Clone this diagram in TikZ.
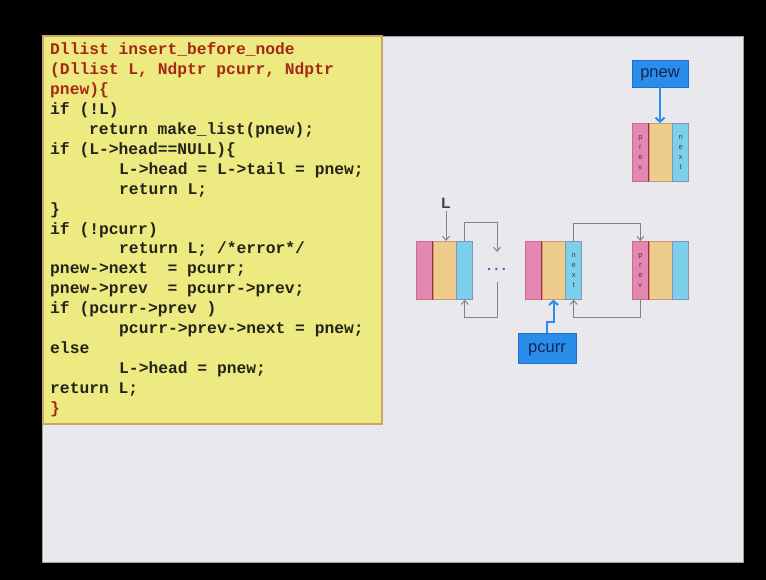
\documentclass[tikz,border=0pt]{standalone}
\usepackage{fontspec}
\setmainfont{Liberation Sans}
\newfontfamily\codefont{Liberation Mono}
\usetikzlibrary{arrows.meta}

\definecolor{slidebg}{RGB}{233,233,237}
\definecolor{slideedge}{RGB}{160,160,160}
\definecolor{codebg}{RGB}{237,234,130}
\definecolor{codeedge}{RGB}{205,165,105}
\definecolor{codered}{RGB}{165,40,20}
\definecolor{codeink}{RGB}{35,35,25}
\definecolor{cellpink}{RGB}{228,135,178}
\definecolor{cellyellow}{RGB}{238,205,140}
\definecolor{cellcyan}{RGB}{125,208,236}
\definecolor{pinkedge}{RGB}{200,110,130}
\definecolor{yellowedge}{RGB}{205,150,120}
\definecolor{cyanedge}{RGB}{130,150,175}
\definecolor{divred}{RGB}{165,45,55}
\definecolor{linkgray}{RGB}{130,130,130}
\definecolor{ptrblue}{RGB}{42,140,235}
\definecolor{ptredge}{RGB}{30,110,205}
\definecolor{ptrtext}{RGB}{18,38,80}
\definecolor{dotblue}{RGB}{80,100,220}
\definecolor{lettergray}{RGB}{70,60,80}

\tikzset{
  code/.style={inner sep=0pt, anchor=base west, text=codeink,
    font=\codefont\bfseries\fontsize{16.3}{19.9}\selectfont},
  codehead/.style={code, text=codered},
  cell/.style={minimum height=58pt, inner sep=0pt, anchor=north west,
    line width=0.7pt, align=center, text=lettergray,
    font=\fontsize{7.5}{9.8}\selectfont},
  cellp/.style={cell, fill=cellpink, draw=pinkedge, minimum width=16pt},
  celly/.style={cell, fill=cellyellow, draw=yellowedge, minimum width=23pt},
  cellc/.style={cell, fill=cellcyan, draw=cyanedge, minimum width=16pt},
  divider/.style={draw=divred, line width=0.8pt},
  link/.style={draw=linkgray, line width=1pt,
    -{Straight Barb[length=4pt,width=7pt]}},
  ptr/.style={fill=ptrblue, draw=ptredge, line width=0.6pt, text=ptrtext,
    inner sep=0pt, text height=9pt, text depth=1pt,
    font=\fontsize{16.5}{18}\selectfont},
  ptrlink/.style={draw=ptrblue, line width=2pt,
    -{Straight Barb[length=4pt,width=9pt]}},
  lbl/.style={inner sep=3pt, text=black!75, font=\bfseries\fontsize{15}{16}\selectfont},
}

\begin{document}
\begin{tikzpicture}[x=1pt,y=-1pt]
  % page and slide
  \fill[black] (0,0) rectangle (766,580);
  \useasboundingbox (0,0) rectangle (766,580);
  \filldraw[fill=slidebg, draw=slideedge, line width=0.8pt] (42,36) rectangle (743,562);

  % code panel
  \filldraw[fill=codebg, draw=codeedge, line width=1.2pt] (43,36) rectangle (382,424);
  \node[codehead] (c1)  at (50,55)    {Dllist insert\_before\_node};
  \node[codehead] (c2)  at (50,74.9)  {(Dllist L, Ndptr pcurr, Ndptr};
  \node[codehead] (c3)  at (50,94.8)  {pnew)\{};
  \node[code]     (c4)  at (50,114.7) {if (!L)};
  \node[code]     (c5)  at (89,134.6) {return make\_list(pnew);};
  \node[code]     (c6)  at (50,154.5) {if (L->head==NULL)\{};
  \node[code]     (c7)  at (119,174.4) {L->head = L->tail = pnew;};
  \node[code]     (c8)  at (119,194.3) {return L;};
  \node[code]     (c9)  at (50,214.2) {\}};
  \node[code]     (c10) at (50,234.1) {if (!pcurr)};
  \node[code]     (c11) at (119,254)  {return L; /*error*/};
  \node[code]     (c12) at (50,273.9) {pnew->next~~= pcurr;};
  \node[code]     (c13) at (50,293.8) {pnew->prev~~= pcurr->prev;};
  \node[code]     (c14) at (50,313.7) {if (pcurr->prev )};
  \node[code]     (c15) at (119,333.6) {pcurr->prev->next = pnew;};
  \node[code]     (c16) at (50,353.5) {else};
  \node[code]     (c17) at (119,373.4) {L->head = pnew;};
  \node[code]     (c18) at (50,393.3) {return L;};
  \node[codehead] (c19) at (50,413.2) {\}};

  % list node reached from L
  \node[cellp] (n1p) at (416,241) {};
  \node[celly] (n1y) at (n1p.north east) {};
  \node[cellc] (n1c) at (n1y.north east) {};
  \draw[divider] (n1p.north east) -- (n1p.south east);

  % current node
  \node[cellp] (n2p) at (525,241) {};
  \node[celly] (n2y) at (n2p.north east) {};
  \node[cellc] (n2c) at (n2y.north east) {n\\e\\x\\t};
  \draw[divider] (n2p.north east) -- (n2p.south east);

  % node after the current one
  \node[cellp] (n3p) at (632,241) {p\\r\\e\\v};
  \node[celly] (n3y) at (n3p.north east) {};
  \node[cellc] (n3c) at (n3y.north east) {};
  \draw[divider] (n3p.north east) -- (n3p.south east);

  % new node
  \node[cellp] (nnp) at (632,123) {p\\r\\e\\v};
  \node[celly] (nny) at (nnp.north east) {};
  \node[cellc] (nnc) at (nny.north east) {n\\e\\x\\t};
  \draw[divider] (nnp.north east) -- (nnp.south east);

  % list head label
  \node[lbl] (L) at (446,203) {L};
  \draw[link] (L.south) -- (L.south |- n1y.north);

  % elided part of the list
  \node[text=dotblue, inner sep=0pt, font=\bfseries\fontsize{15}{15}\selectfont] (dots) at (497,271)
    {·\hspace{2.5pt}·\hspace{2.5pt}·};
  \coordinate (gapT) at (497,252);
  \coordinate (gapB) at (497,282);
  \draw[link] (n1c.north) -- ++(0,-18) -| (gapT);
  \draw[link] (gapB) -- ++(0,35) -| (n1c.south);

  % links between current node and its successor
  \draw[link] (n2c.north) -- ++(0,-17) -| (n3p.north);
  \draw[link] (n3p.south) -- ++(0,18) -| (n2c.south);

  % pointer boxes
  \node[ptr, minimum width=58pt, minimum height=30pt] (pcurr) at (547,348) {pcurr};
  \draw[ptrlink] (pcurr.north) -- ++(0,-11) -| (n2y.south);

  \node[ptr, minimum width=56pt, minimum height=27pt] (pnew) at (660,73.5) {pnew};
  \draw[ptrlink] (pnew.south) -- (pnew.south |- nny.north);
\end{tikzpicture}
\end{document}
